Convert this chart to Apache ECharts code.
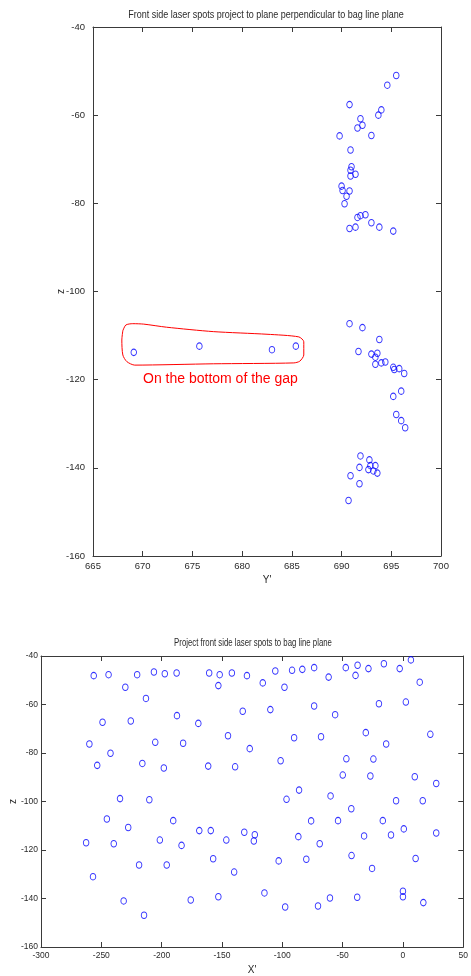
<!DOCTYPE html>
<html>
<head>
<meta charset="utf-8">
<script src="https://cdn.jsdelivr.net/npm/echarts@6/dist/echarts.min.js"></script>
<style>
  html, body { margin: 0; padding: 0; background: #fff; }
  #chart { width: 471px; height: 976px; }
</style>
</head>
<body>
<div id="chart"></div>
<script>
// ---------- Data ----------
const topTitle = 'Front side laser spots project to plane perpendicular to bag line plane';
const bottomTitle = 'Project front side laser spots to bag line plane';

// Top chart: [Y', Z]
const topCluster = [
  [695.5,-51.0],[694.6,-53.2],[690.8,-57.6],[694.0,-58.8],[693.7,-60.0],[691.9,-60.8],
  [691.6,-62.9],[692.1,-62.3],[689.8,-64.7],[693.0,-64.6],[690.9,-67.9],[691.0,-71.7],
  [690.9,-72.5],[690.9,-73.8],[691.4,-73.4],[690.0,-76.1],[690.1,-77.1],[690.8,-77.2],
  [690.5,-78.4],[690.3,-80.1],[691.6,-83.2],[691.9,-82.8],[692.4,-82.6],[693.0,-84.4],
  [690.8,-85.7],[691.4,-85.4],[693.8,-85.4],[695.2,-86.3],
  [690.8,-107.3],[692.1,-108.2],[693.8,-110.9],[691.7,-113.6],[693.0,-114.2],[693.6,-114.0],
  [693.4,-114.9],[693.4,-116.5],[694.0,-116.2],[694.4,-116.0],[695.2,-117.2],[695.3,-117.7],
  [695.8,-117.5],[696.3,-118.6],[696.0,-122.6],[695.2,-123.8],[695.5,-127.9],[696.0,-129.3],
  [696.4,-130.9],
  [691.9,-137.3],[692.8,-138.2],[691.8,-139.9],[692.7,-140.4],[692.9,-139.5],[693.4,-139.5],
  [693.2,-140.7],[693.6,-141.2],[690.9,-141.8],[691.8,-143.6],[690.7,-147.4]
];
const gapPoints = [[669.1,-113.8],[675.7,-112.4],[683.0,-113.2],[685.4,-112.4]];
const gapOutline = [
  [668.0,-108.9],[668.3,-107.6],[669.0,-107.3],[670.1,-107.4],[672.4,-108.1],[677.1,-109.1],
  [682.5,-109.7],[685.7,-110.3],[686.2,-111.4],[686.2,-114.4],[685.8,-115.8],[685.2,-116.2],
  [677.1,-116.4],[669.2,-116.7],[668.4,-115.9],[668.0,-114.4],[667.9,-111.0],[668.0,-108.9]
];
const gapText = 'On the bottom of the gap';

// Bottom chart: [X', Z]
const bottomPoints = [
  [-256.3,-48.1],[-244.0,-47.7],[-230.1,-52.9],[-220.3,-47.7],[-206.4,-46.6],[-197.4,-47.3],
  [-187.6,-47.0],[-160.6,-47.0],[-151.9,-47.7],[-153.0,-52.2],[-141.8,-47.0],[-213.0,-57.5],
  [-249.0,-67.3],[-225.6,-66.8],[-187.3,-64.6],[-169.6,-67.8],[-145.0,-72.9],[-259.9,-76.3],
  [-205.3,-75.6],[-182.2,-76.0],
  [-129.3,-48.1],[-116.2,-51.1],[-105.8,-46.2],[-98.2,-52.9],[-91.9,-45.9],[-83.4,-45.5],
  [-73.6,-44.8],[-61.6,-48.7],[-47.4,-44.8],[-37.6,-43.8],[-39.3,-48.0],[-28.6,-45.2],
  [-15.8,-43.2],[-2.7,-45.2],[6.6,-41.6],[13.9,-50.8],[-132.8,-62.8],[-109.9,-62.1],
  [-73.6,-60.6],[-56.2,-64.2],[-19.9,-59.7],[2.4,-59.0],[-90.2,-73.7],[-67.9,-73.3],
  [-30.8,-71.6],[22.7,-72.3],[-13.9,-76.3],
  [-242.4,-80.1],[-253.4,-85.1],[-216.0,-84.3],[-198.2,-86.2],[-161.4,-85.4],[-139.1,-85.7],
  [-234.5,-98.8],[-210.2,-99.3],[-245.4,-107.2],[-227.7,-110.7],[-190.4,-107.9],[-168.8,-112.0],
  [-159.3,-112.0],[-262.6,-117.0],[-239.7,-117.4],[-201.5,-115.9],[-183.5,-118.1],[-146.4,-115.9],
  [-157.3,-123.6],
  [-127.0,-78.2],[-101.4,-83.2],[-46.9,-82.4],[-24.5,-82.5],[-49.9,-89.1],[-27.0,-89.5],
  [9.8,-89.8],[27.6,-92.6],[-86.1,-95.3],[-96.5,-99.1],[-60.0,-97.7],[-42.8,-103.0],
  [-5.7,-99.7],[16.4,-99.7],[-76.1,-108.0],[-53.8,-107.9],[-16.7,-107.9],[0.7,-111.3],
  [-131.5,-112.7],[-122.8,-113.7],[-123.6,-116.3],[-86.7,-114.5],[-69.0,-117.4],[-32.2,-114.2],
  [-9.9,-113.8],[27.6,-113.0],[-103.0,-124.5],[-80.1,-123.8],[-42.6,-122.3],[10.5,-123.5],
  [-256.9,-131.0],[-218.7,-126.2],[-195.8,-126.2],[-139.9,-129.1],[-25.6,-127.6],[-231.5,-141.0],
  [-214.6,-146.9],[-175.9,-140.6],[-153.0,-139.3],[-114.8,-137.7],[-97.6,-143.5],[-70.4,-143.1],
  [-60.5,-139.8],[-37.9,-139.5],[0.0,-137.0],[0.0,-139.3],[16.9,-141.7]
];

// Axis ranges
const topX = { min: 665, max: 700, interval: 5, name: "Y'" };
const topY = { min: -160, max: -40, interval: 20, name: 'z' };
const botX = { min: -300, max: 50, interval: 50, name: "X'" };
const botY = { min: -160, max: -40, interval: 20, name: 'z' };

// ---------- Styling ----------
const tickFont = 'Liberation Sans, Arial, sans-serif';
const lineColor = '#3a3a3a';
const textColor = '#2a2a2a';

function axisBase(r, gi, pos, showLabel, margin, fs) {
  return {
    type: 'value', gridIndex: gi, position: pos,
    min: r.min, max: r.max, interval: r.interval,
    axisLine: { show: true, onZero: false, lineStyle: { color: lineColor, width: 1 } },
    axisTick: { show: true, inside: true, length: 5, lineStyle: { color: lineColor } },
    axisLabel: { show: showLabel, margin: margin, color: textColor, fontSize: fs, fontFamily: tickFont },
    splitLine: { show: false }
  };
}
function addName(ax, name, gap, rotate) {
  ax.name = name; ax.nameLocation = 'middle'; ax.nameGap = gap;
  ax.nameMoveOverlap = false;
  if (rotate) ax.nameRotate = 90;
  ax.nameTextStyle = { color: textColor, fontSize: 10, fontFamily: tickFont };
  return ax;
}

const chart = echarts.init(document.getElementById('chart'), null, { renderer: 'canvas' });

const xTop = addName(axisBase(topX, 0, 'bottom', true, 5, 9.5), topX.name, 19, false);
const xTop2 = axisBase(topX, 0, 'top', false, 5, 9.5);
const yTop = addName(axisBase(topY, 0, 'left', true, 8, 9.5), topY.name, 27, true);
const yTop2 = axisBase(topY, 0, 'right', false, 5, 9.5);

const xBot = addName(axisBase(botX, 1, 'bottom', true, 4, 8.5), botX.name, 18, false);
const xBot2 = axisBase(botX, 1, 'top', false, 4, 8.5);
const yBot = addName(axisBase(botY, 1, 'left', true, 3, 8.5), botY.name, 23, true);
const yBot2 = axisBase(botY, 1, 'right', false, 3, 8.5);

const markerStyle = { color: 'rgba(0,0,0,0)', borderColor: '#0000ff', borderWidth: 1 };

chart.setOption({
  backgroundColor: '#ffffff',
  animation: false,
  grid: [
    { left: 93, top: 27, width: 348, height: 529, containLabel: false },
    { left: 39, top: 656, width: 429, height: 291, containLabel: false }
  ],
  xAxis: [xTop, xTop2, xBot, xBot2],
  yAxis: [yTop, yTop2, yBot, yBot2],
  graphic: [
    { type: 'text', x: 266, y: 10, scaleX: 0.9,
      style: { text: topTitle, x: 0, y: 0, align: 'center', verticalAlign: 'top',
               fill: textColor, font: '10px "Liberation Sans", Arial, sans-serif' } },
    { type: 'text', x: 253, y: 638, scaleX: 0.78,
      style: { text: bottomTitle, x: 0, y: 0, align: 'center', verticalAlign: 'top',
               fill: textColor, font: '10px "Liberation Sans", Arial, sans-serif' } },
    { type: 'text', left: 143, top: 372,
      style: { text: gapText, fill: '#ff0000', font: '14px "Liberation Sans", Arial, sans-serif' } }
  ],
  series: [
    { type: 'scatter', xAxisIndex: 0, yAxisIndex: 0, data: topCluster,
      symbol: 'circle', symbolSize: [5.5, 6.5], itemStyle: markerStyle },
    { type: 'scatter', xAxisIndex: 0, yAxisIndex: 0, data: gapPoints,
      symbol: 'circle', symbolSize: [5.5, 6.5], itemStyle: markerStyle },
    { type: 'line', xAxisIndex: 0, yAxisIndex: 0, data: gapOutline, smooth: 0.25,
      showSymbol: false, symbol: 'none', lineStyle: { color: '#ff0000', width: 1 } },
    { type: 'scatter', xAxisIndex: 2, yAxisIndex: 2, data: bottomPoints,
      symbol: 'circle', symbolSize: [5.5, 6.5], itemStyle: markerStyle }
  ]
});
</script>
</body>
</html>
